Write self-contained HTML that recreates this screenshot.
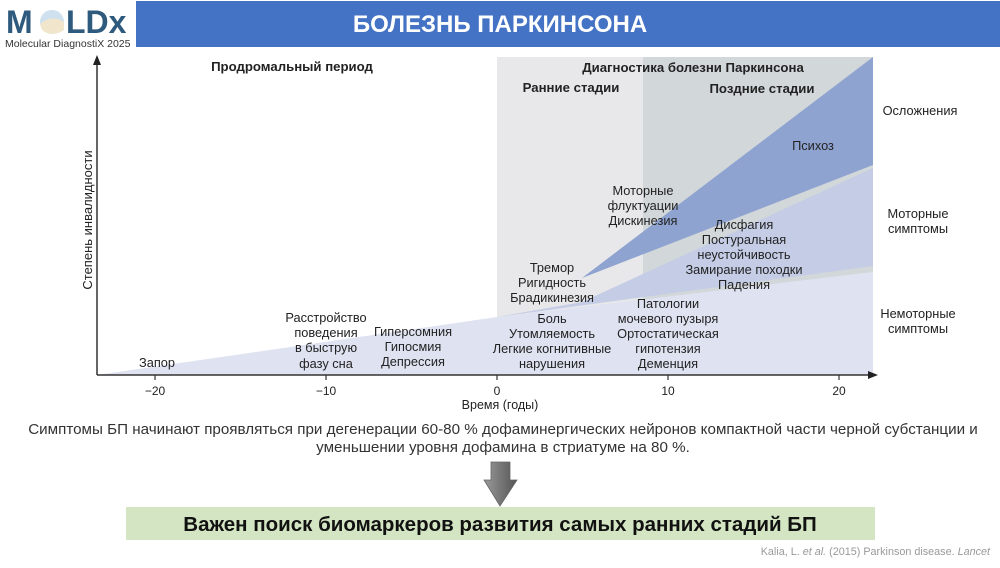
<!DOCTYPE html>
<html><head><meta charset="utf-8"><style>
body{margin:0;width:1000px;height:563px;overflow:hidden;background:#fff;font-family:"Liberation Sans",sans-serif}
</style></head><body>
<svg width="1000" height="563" viewBox="0 0 1000 563" xmlns="http://www.w3.org/2000/svg" font-family="Liberation Sans, sans-serif">
<rect x="136" y="1" width="864" height="46" fill="#4472c4"/>
<text x="500" y="32" font-size="24" font-weight="bold" fill="#fff" text-anchor="middle">БОЛЕЗНЬ ПАРКИНСОНА</text>
<text x="6" y="33" font-size="32" font-weight="bold" fill="#2e5a7e">M</text>
<circle cx="52" cy="22" r="12" fill="#cfe0ee"/><path d="M40 24 Q52 14 64 22 L64 30 Q52 38 42 30Z" fill="#f1e6cc"/>
<text x="66" y="33" font-size="32" font-weight="bold" fill="#2e5a7e">LDx</text>
<text x="5" y="47" font-size="10.5" fill="#333">Molecular DiagnostiX 2025</text>

<rect x="497" y="57" width="376" height="318" fill="#e8e8ea"/>
<rect x="643" y="57" width="230" height="318" fill="#d2d7da"/>
<polygon points="97,375 497,317 873,272 873,375" fill="#dfe3f1"/>
<polygon points="497,317 582,302 873,168 873,266" fill="#c5cde6"/>
<polygon points="582,278 873,57 873,165" fill="#8fa3d0"/>
<line x1="97" y1="375" x2="97" y2="60" stroke="#333" stroke-width="1.5"/>
<polygon points="97,55 93,65 101,65" fill="#222"/>
<line x1="97" y1="375" x2="872" y2="375" stroke="#333" stroke-width="1.5"/>
<polygon points="878,375 868,371 868,379" fill="#222"/>
<g stroke="#333" stroke-width="1.2"><line x1="155" y1="375" x2="155" y2="380"/><line x1="326" y1="375" x2="326" y2="380"/><line x1="497" y1="375" x2="497" y2="380"/><line x1="668" y1="375" x2="668" y2="380"/><line x1="839" y1="375" x2="839" y2="380"/></g>
<g font-size="12.8" fill="#222" text-anchor="middle">
<g font-size="12"><text x="155" y="395">−20</text><text x="326" y="395">−10</text><text x="497" y="395">0</text><text x="668" y="395">10</text><text x="839" y="395">20</text></g>
<text x="500" y="409" font-size="12.5">Время (годы)</text>
<text transform="translate(92,220) rotate(-90)" font-size="13">Степень инвалидности</text>
<g font-weight="bold" font-size="13.2"><text x="292" y="71">Продромальный период</text><text x="693" y="72">Диагностика болезни Паркинсона</text><text x="571" y="92">Ранние стадии</text><text x="762" y="93">Поздние стадии</text></g>
<text x="157" y="367">Запор</text>
<text x="326" y="322">Расстройство</text><text x="326" y="337">поведения</text><text x="326" y="352">в быструю</text><text x="326" y="368">фазу сна</text>
<text x="413" y="336">Гиперсомния</text><text x="413" y="351">Гипосмия</text><text x="413" y="366">Депрессия</text>
<text x="552" y="272">Тремор</text><text x="552" y="287">Ригидность</text><text x="552" y="302">Брадикинезия</text>
<text x="552" y="323">Боль</text><text x="552" y="338">Утомляемость</text><text x="552" y="353">Легкие когнитивные</text><text x="552" y="368">нарушения</text>
<text x="643" y="195">Моторные</text><text x="643" y="210">флуктуации</text><text x="643" y="225">Дискинезия</text>
<text x="813" y="150">Психоз</text>
<text x="744" y="229">Дисфагия</text><text x="744" y="244">Постуральная</text><text x="744" y="259">неустойчивость</text><text x="744" y="274">Замирание походки</text><text x="744" y="289">Падения</text>
<text x="668" y="308">Патологии</text><text x="668" y="323">мочевого пузыря</text><text x="668" y="338">Ортостатическая</text><text x="668" y="353">гипотензия</text><text x="668" y="368">Деменция</text>
<text x="920" y="115">Осложнения</text>
<text x="918" y="218">Моторные</text><text x="918" y="233">симптомы</text>
<text x="918" y="318">Немоторные</text><text x="918" y="333">симптомы</text>
</g>
<g font-size="15.2" fill="#333" text-anchor="middle"><text x="503" y="434">Симптомы БП начинают проявляться при дегенерации 60-80 % дофаминергических нейронов компактной части черной субстанции и</text><text x="503" y="452">уменьшении уровня дофамина в стриатуме на 80 %.</text></g>
<defs><linearGradient id="g" x1="0" x2="1"><stop offset="0" stop-color="#999"/><stop offset=".5" stop-color="#777"/><stop offset="1" stop-color="#555"/></linearGradient></defs>
<polygon points="491,462 510,462 510,480 517,480 500,506 484,480 491,480" fill="url(#g)" stroke="#666" stroke-width=".8"/>
<rect x="126" y="507" width="749" height="33" fill="#d3e5c2"/>
<text x="500" y="531" font-size="20.5" font-weight="bold" fill="#111" text-anchor="middle">Важен поиск биомаркеров развития самых ранних стадий БП</text>
<text x="990" y="555" font-size="10.8" fill="#999" text-anchor="end">Kalia, L. <tspan font-style="italic">et al.</tspan> (2015) Parkinson disease. <tspan font-style="italic">Lancet</tspan></text>
</svg>
</body></html>
